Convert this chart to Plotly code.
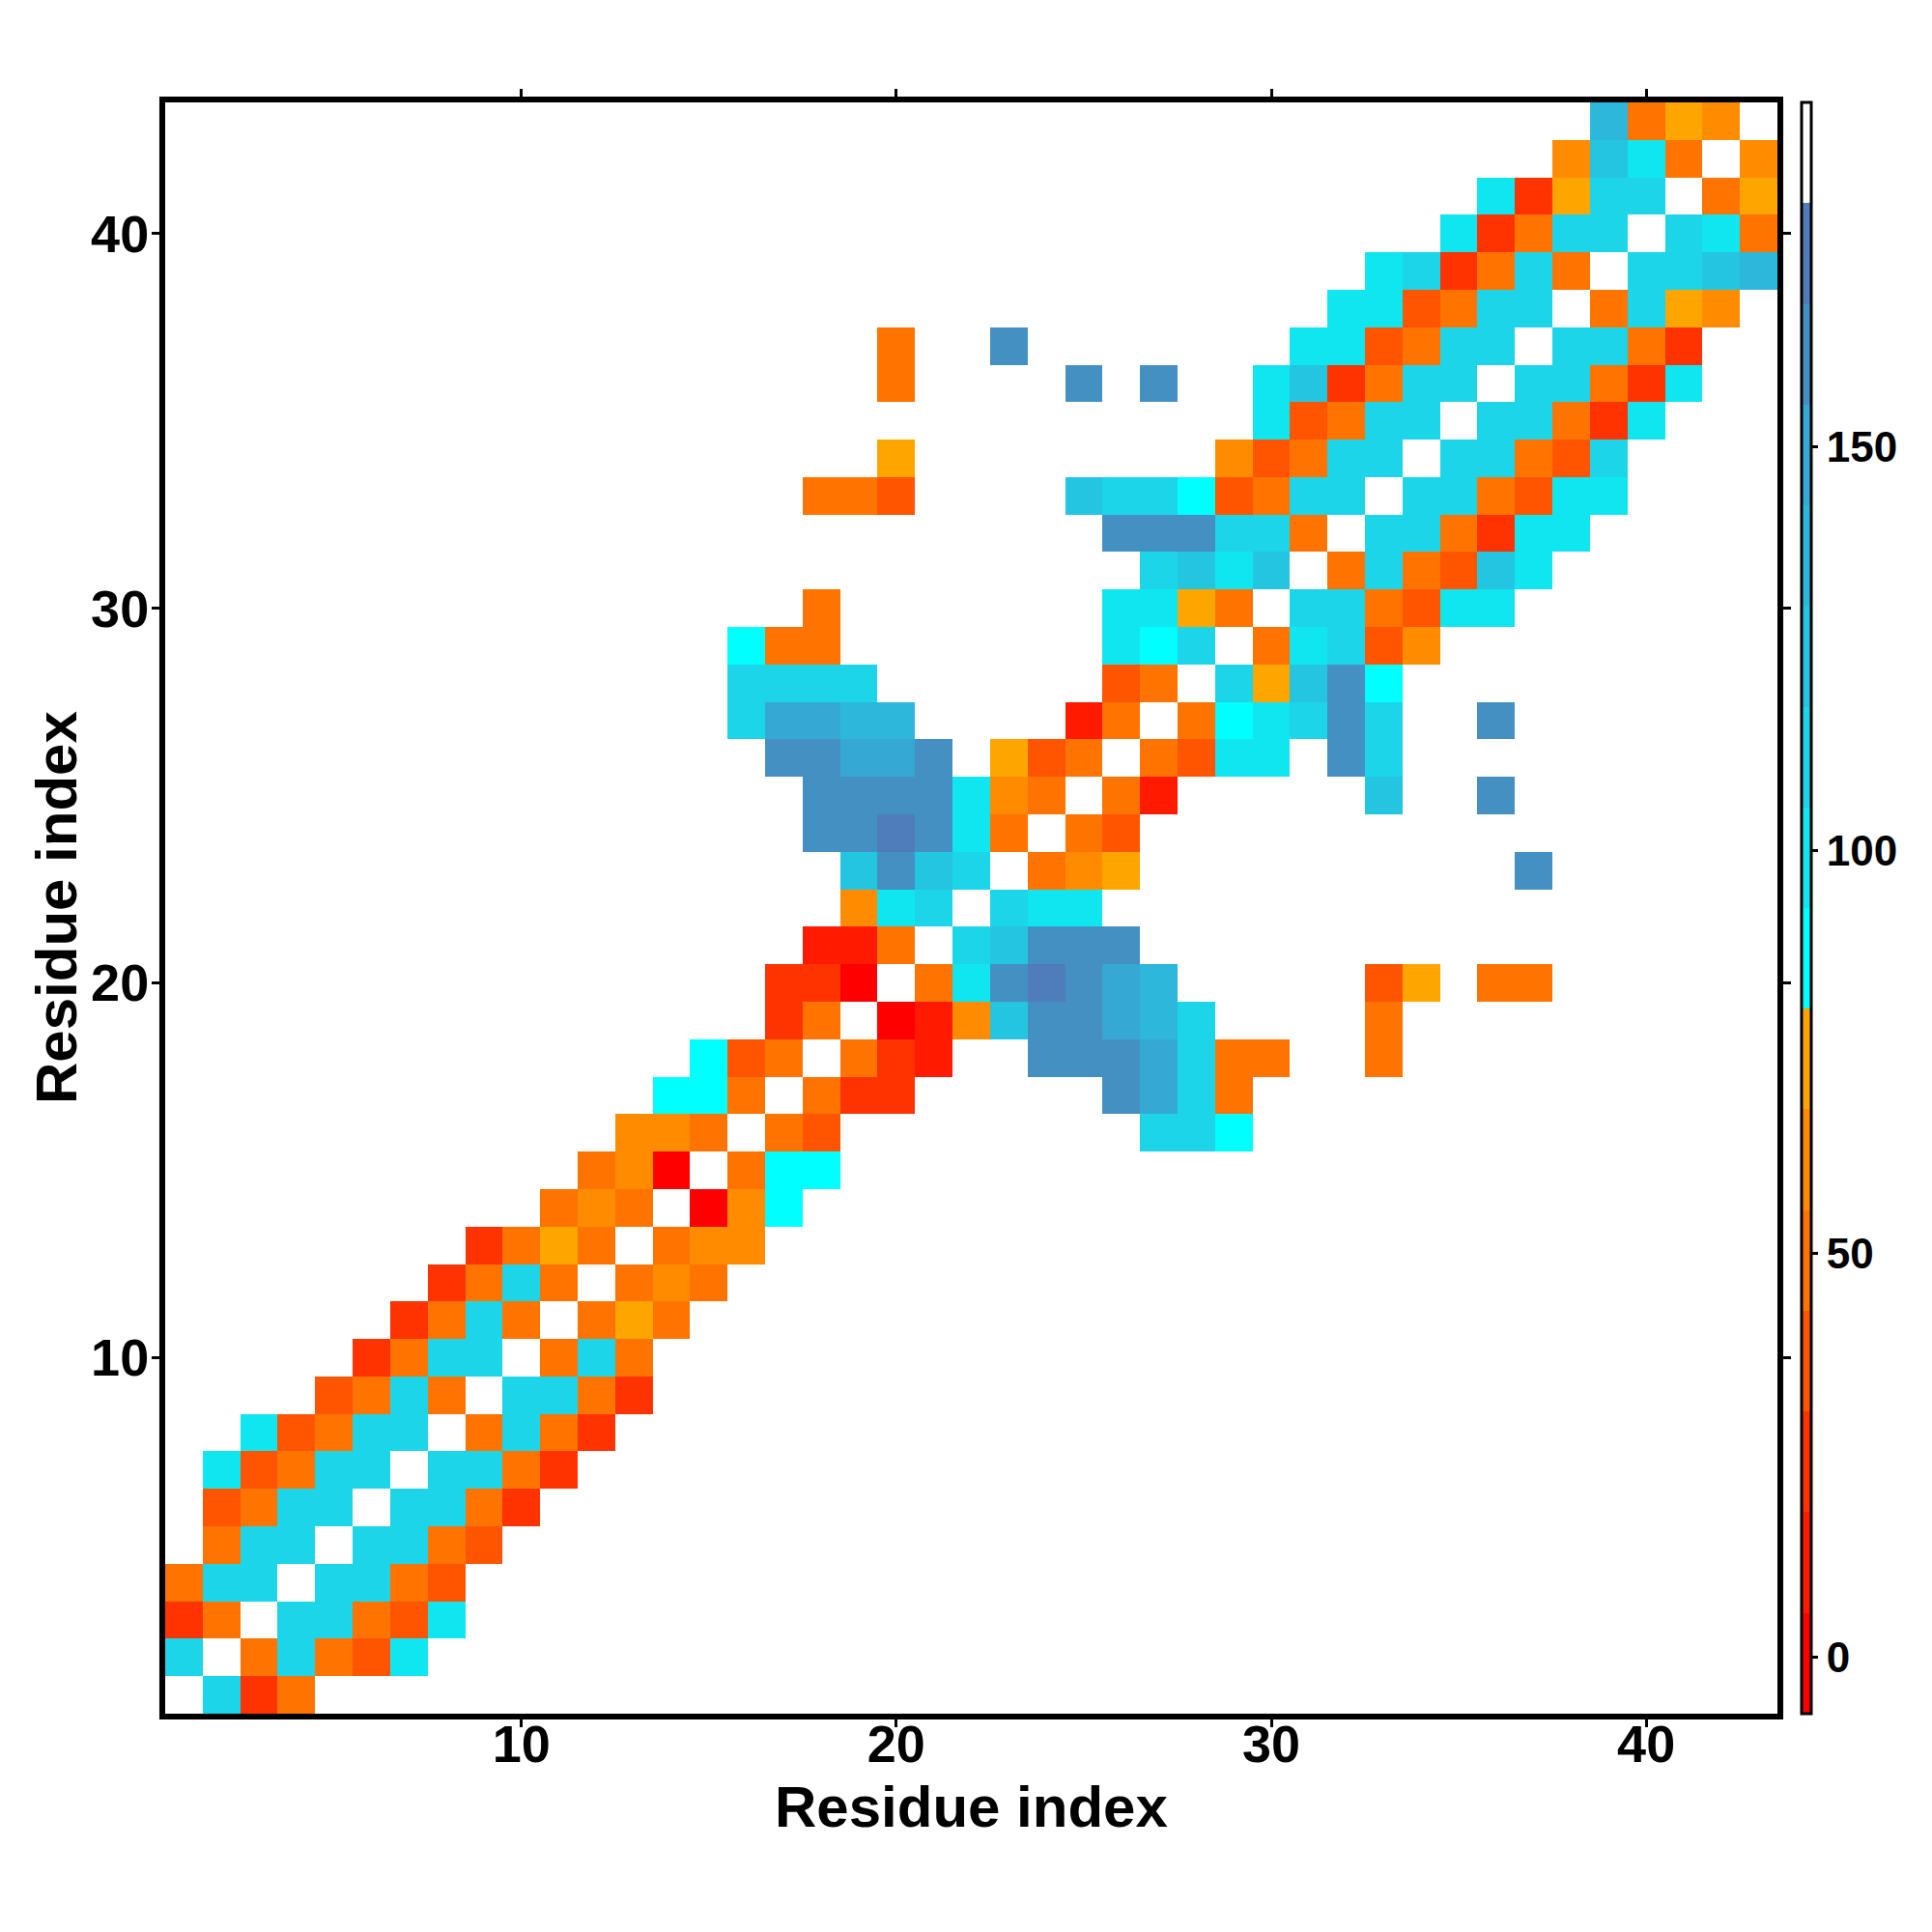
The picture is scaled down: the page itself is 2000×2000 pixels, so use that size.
import numpy as np
import plotly.graph_objects as go

# Residue indices
residues = list(range(1, 44))

# Value for each colour code (band centres of the colour bar)
code_values = {
    "a": 0, "b": 12, "c": 24, "d": 37, "e": 49, "f": 62, "g": 74,
    "h": 86, "i": 99, "j": 111, "k": 124, "l": 136, "m": 149, "n": 161, "o": 174,
}

# Rows of the map: residue on y -> (first residue on x, codes; "." = no value)
rows = {
    1: (1, ".jce"),
    2: (1, "j.ejedi"),
    3: (1, "ce.jjedi"),
    4: (1, "ejj.jjed"),
    5: (1, ".ejj.jjed"),
    6: (1, ".dejj.jjec"),
    7: (1, ".idejj.jjec"),
    8: (3, "idejj.ejec"),
    9: (5, "deje.jjec"),
    10: (6, "cejj.eje"),
    11: (7, "ceje.ege"),
    12: (8, "ceje.efe"),
    13: (9, "cege.eff"),
    14: (11, "efe.afh"),
    15: (12, "efa.ehh"),
    16: (13, "ffe.ed........jjh"),
    17: (14, "hhe.ecc.....nmje"),
    18: (15, "hde.ecb..nnnmjee..e"),
    19: (17, "ce.abfknnmlj....e"),
    20: (17, "cca.einonml.....dg.ee"),
    21: (18, "bbe.jknnn"),
    22: (19, "fij.jii"),
    23: (19, "knkj.efg..........n"),
    24: (18, "nnonie.ed"),
    25: (18, "nnnnife.eb.....k..n"),
    26: (17, "nnmmn.gde.edii.nj"),
    27: (16, "jmmll....be.ehijnj..n"),
    28: (16, "jjjj......de.jgknh"),
    29: (16, "hee.......ihj.eijdf"),
    30: (18, "e.......iige.jjedii"),
    31: (27, "jkik.ejedki"),
    32: (26, "nnnjje.jjecii"),
    33: (18, "eed....kjjhdejj.jjedii"),
    34: (20, "g........fdejj.jjedj"),
    35: (30, "idejj.jjeci"),
    36: (20, "e....n.n..ikcejj.jjeci"),
    37: (20, "e..n.......iidejj.jjec"),
    38: (32, "iidejj.ejgf"),
    39: (33, "ijceje.jjkl"),
    40: (35, "icejj.jie"),
    41: (36, "icgjj.eg"),
    42: (38, "fkie.f"),
    43: (39, "legf"),
}

n = len(residues)
z = np.full((n, n), np.nan)
for yres, (x0, codes) in rows.items():
    for k, ch in enumerate(codes):
        if ch in code_values:
            z[yres - 1, x0 - 1 + k] = code_values[ch]

zmin, zmax = -7.0, 192.7
band_colors = [
    "#FF0000", "#FF1A00", "#FF3300", "#FF5500", "#FF7300", "#FF8C00", "#FFA500",
    "#00FFFF", "#10E6F0", "#1DD5E8", "#23C5E0", "#2DB8DB", "#35A8D4", "#4590C3",
    "#4F7CBA", "#FFFFFF",
]
nb = len(band_colors)
colorscale = []
for k, c in enumerate(band_colors):
    colorscale.append([k / nb, c])
    colorscale.append([(k + 1) / nb, c])

FONT = "Liberation Sans, Arial, Helvetica, sans-serif"
ML, MR, MT, MB = 163, 168, 98, 234
PW = 2000 - ML - MR
PH = 2000 - MT - MB

fig = go.Figure(
    go.Heatmap(
        x=residues, y=residues, z=z,
        zmin=zmin, zmax=zmax,
        colorscale=colorscale,
        hoverongaps=False,
        colorbar=dict(
            x=1.0152, xanchor="left", xpad=0,
            y=0.5, yanchor="middle", len=1.0, lenmode="fraction", ypad=0,
            thickness=10, outlinewidth=3, outlinecolor="black",
            tickvals=[0, 50, 100, 150],
            ticks="outside", ticklen=6, tickwidth=3, tickcolor="black",
            tickfont=dict(family=FONT, size=44, color="black", weight="bold"),
        ),
    )
)

axis_common = dict(
    range=[0.5, 43.5],
    tickvals=[10, 20, 30, 40],
    ticks="outside", ticklen=8, tickwidth=3, tickcolor="black",
    showline=True, linewidth=6, linecolor="black", mirror="ticks",
    showgrid=False, zeroline=False,
    tickfont=dict(family=FONT, size=54, color="black", weight="bold"),
)

title_font = dict(family=FONT, size=60, color="black", weight="bold")

fig.update_layout(
    width=2000, height=2000,
    margin=dict(l=ML, r=MR, t=MT, b=MB),
    paper_bgcolor="white", plot_bgcolor="white",
    xaxis=dict(**axis_common, ticklabelstandoff=-29),
    yaxis=dict(**axis_common, ticklabelstandoff=-8),
    annotations=[
        dict(text="Residue index", xref="paper", yref="paper",
             x=0.5, y=-(1862 - (2000 - MB)) / PH,
             xanchor="center", yanchor="middle", showarrow=False, font=title_font),
        dict(text="Residue index", xref="paper", yref="paper",
             x=(50 - ML) / PW, y=0.5, textangle=-90,
             xanchor="center", yanchor="middle", showarrow=False, font=title_font),
    ],
)

fig.write_html("out.html")
